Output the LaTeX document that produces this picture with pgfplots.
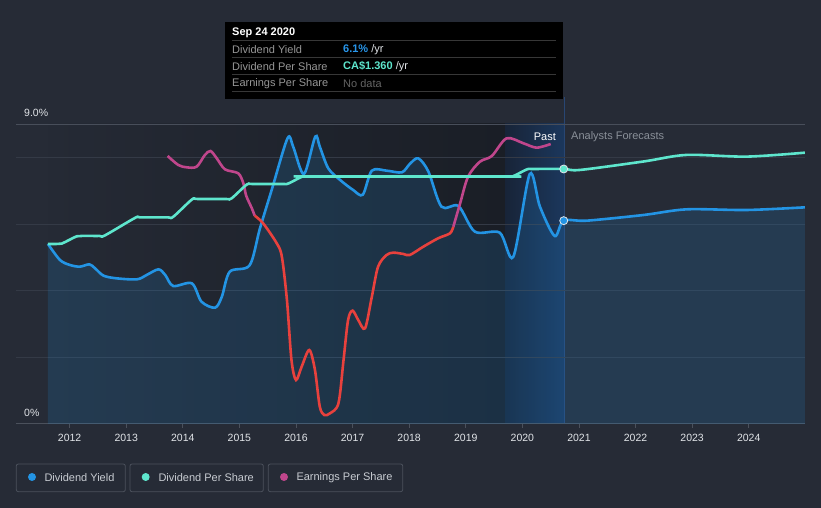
\documentclass[border=0pt]{standalone}
\usepackage{pgfplots}
\pgfplotsset{compat=1.18}
\usepackage{fontspec}
\setmainfont{Liberation Sans}
\definecolor{bg}{RGB}{38,43,54}
\definecolor{pastL}{RGB}{37,42,53}
\definecolor{pastR}{RGB}{26,30,38}
\definecolor{bandL}{RGB}{24,36,56}
\definecolor{bandR}{RGB}{27,55,92}
\definecolor{vline}{RGB}{40,70,115}
\definecolor{gridcol}{RGB}{52,58,70}
\definecolor{topline}{RGB}{72,78,90}
\definecolor{axiscol}{RGB}{75,81,92}
\definecolor{ticklab}{RGB}{225,228,232}
\definecolor{yieldcol}{RGB}{35,148,228}
\definecolor{dpscol}{RGB}{94,230,205}
\definecolor{epsmag}{RGB}{192,70,140}
\definecolor{epsred}{RGB}{232,65,61}
\definecolor{legtxt}{RGB}{200,204,210}
\definecolor{legbox}{RGB}{75,81,92}
\definecolor{tipgrey}{RGB}{150,150,150}
\definecolor{tipline}{RGB}{55,55,55}
\definecolor{tipblue}{RGB}{40,150,235}
\definecolor{nodata}{RGB}{100,100,100}
\definecolor{fcgrey}{RGB}{138,144,153}

\begin{document}
\begin{tikzpicture}[x=1pt,y=1pt]
% background
\fill[bg] (0,0) rectangle (821,508);
% past region shading
\shade[left color=pastL, right color=pastR] (48,84) rectangle (505,384);
\shade[left color=bandL, right color=bandR] (505,84) rectangle (564,384);
\draw[vline, line width=1pt] (564,84) -- (564,411);
\draw[topline, line width=0.9pt] (16,384) -- (805,384);

% main axis: dividend yield (%) ; EPS drawn on same scale (relative)
\begin{axis}[
  at={(16pt,84pt)}, anchor=south west, scale only axis,
  width=789pt, height=300pt,
  xmin=2011.053, xmax=2024.993, ymin=0, ymax=9,
  axis x line*=bottom, axis y line*=left,
  x axis line style={draw=axiscol, line width=1pt, -},
  y axis line style={draw=none},
  xtick={2012,...,2024},
  xtick align=outside, major tick length=4pt,
  xtick style={draw=axiscol, line width=0.8pt},
  xticklabel style={font=\fontsize{10.5}{12}\selectfont, text=ticklab, yshift=-2.5pt,
    /pgf/number format/1000 sep={}, /pgf/number format/assume math mode=true},
  ytick={2,4,6,8}, yticklabels={}, ytick style={draw=none},
  ymajorgrids, grid style={gridcol, line width=0.8pt},
  tension=0.5,
]
% fill under dividend yield
\addplot[draw=none, fill=yieldcol, fill opacity=0.16, smooth] coordinates {
(2011.618,5.40) (2011.83,4.92) (2012.007,4.77) (2012.18,4.72) (2012.35,4.79) (2012.45,4.67)
(2012.60,4.45) (2012.83,4.37) (2013.19,4.34) (2013.36,4.47) (2013.57,4.64) (2013.69,4.47)
(2013.83,4.14) (2014.16,4.22) (2014.33,3.67) (2014.57,3.49) (2014.69,3.82) (2014.83,4.57)
(2015.18,4.76) (2015.36,5.85) (2015.57,7.02) (2015.85,8.57) (2015.95,8.32) (2016.14,7.50)
(2016.34,8.62) (2016.42,8.32) (2016.57,7.67) (2016.78,7.32) (2017.01,7.02) (2017.18,6.88)
(2017.34,7.60) (2017.60,7.60) (2017.87,7.55) (2018.01,7.80) (2018.16,7.97) (2018.34,7.57)
(2018.57,6.52) (2018.87,6.54) (2019.16,5.77) (2019.60,5.74) (2019.84,5.02) (2020.13,7.50)
(2020.31,6.52) (2020.57,5.64) (2020.73,6.10) (2021.14,6.10) (2022.14,6.27) (2022.90,6.44)
(2023.96,6.42) (2024.99,6.50)
} \closedcycle;
% dividend yield line
\addplot[yieldcol, line width=2.6pt, smooth] coordinates {
(2011.618,5.40) (2011.83,4.92) (2012.007,4.77) (2012.18,4.72) (2012.35,4.79) (2012.45,4.67)
(2012.60,4.45) (2012.83,4.37) (2013.19,4.34) (2013.36,4.47) (2013.57,4.64) (2013.69,4.47)
(2013.83,4.14) (2014.16,4.22) (2014.33,3.67) (2014.57,3.49) (2014.69,3.82) (2014.83,4.57)
(2015.18,4.76) (2015.36,5.85) (2015.57,7.02) (2015.85,8.57) (2015.95,8.32) (2016.14,7.50)
(2016.34,8.62) (2016.42,8.32) (2016.57,7.67) (2016.78,7.32) (2017.01,7.02) (2017.18,6.88)
(2017.34,7.60) (2017.60,7.60) (2017.87,7.55) (2018.01,7.80) (2018.16,7.97) (2018.34,7.57)
(2018.57,6.52) (2018.87,6.54) (2019.16,5.77) (2019.60,5.74) (2019.84,5.02) (2020.13,7.50)
(2020.31,6.52) (2020.57,5.64) (2020.73,6.10) (2021.14,6.10) (2022.14,6.27) (2022.90,6.44)
(2023.96,6.42) (2024.99,6.50)
};
% earnings per share (relative scale)
\addplot[epsmag, line width=2.6pt, smooth] coordinates {
(2013.733,8.04) (2013.92,7.77) (2014.07,7.70) (2014.245,7.72) (2014.39,8.07) (2014.49,8.19)
(2014.60,7.97) (2014.745,7.64) (2014.98,7.52) (2015.07,7.22) (2015.12,6.85) (2015.22,6.47) (2015.27,6.25)
};
\addplot[epsred, line width=2.6pt, smooth] coordinates {
(2015.27,6.25) (2015.42,6.02) (2015.66,5.42) (2015.75,5.02) (2015.84,3.72) (2015.92,1.92)
(2016.00,1.32) (2016.10,1.72) (2016.235,2.22) (2016.335,1.62) (2016.42,0.52) (2016.50,0.27)
(2016.60,0.32) (2016.75,0.62) (2016.84,1.92) (2016.92,3.12) (2017.00,3.40) (2017.10,3.12)
(2017.22,2.87) (2017.34,3.82) (2017.45,4.72) (2017.60,5.07) (2017.72,5.14) (2017.90,5.10)
(2018.01,5.07) (2018.25,5.32) (2018.51,5.57) (2018.72,5.72) (2018.78,5.92)
};
\addplot[epsmag, line width=2.6pt, smooth] coordinates {
(2018.78,5.92) (2018.90,6.62) (2019.04,7.42) (2019.25,7.87) (2019.46,8.04) (2019.72,8.57)
(2020.02,8.42) (2020.25,8.29) (2020.50,8.40)
};
\addplot[only marks, mark=*, mark size=4pt, mark options={fill=yieldcol, draw=ticklab, line width=0.8pt}] coordinates {(2020.73,6.10)};
\end{axis}

% second axis: dividend per share (CA$)
\begin{axis}[
  at={(16pt,84pt)}, anchor=south west, scale only axis,
  width=789pt, height=300pt,
  xmin=2011.053, xmax=2024.993, ymin=0, ymax=1.6,
  hide axis, tension=0.5,
]
\addplot[dpscol, line width=2.6pt, smooth] coordinates {
(2011.618,0.960) (2011.76,0.960) (2011.86,0.962) (2012.125,1.001) (2012.22,1.003)
(2012.53,1.003) (2012.625,1.006) (2013.155,1.099) (2013.25,1.102)
(2013.73,1.102) (2013.83,1.105) (2014.16,1.197) (2014.26,1.200)
(2014.76,1.200) (2014.86,1.203) (2015.13,1.277) (2015.23,1.280)
(2015.76,1.280) (2015.86,1.282) (2016.10,1.318) (2016.20,1.320)
(2019.74,1.320) (2019.84,1.322) (2020.08,1.358) (2020.18,1.360)
(2020.73,1.360) (2021.02,1.355)
(2022.14,1.400) (2022.90,1.435) (2023.96,1.426) (2024.99,1.447)
};
\addplot[only marks, mark=*, mark size=4pt, mark options={fill=dpscol, draw=ticklab, line width=0.8pt}] coordinates {(2020.73,1.36)};
\end{axis}

% y labels
\node[anchor=west, inner sep=0, text=ticklab, font=\fontsize{10.5}{12}\selectfont] at (24,395.5) {9.0\%};
\node[anchor=west, inner sep=0, text=ticklab, font=\fontsize{10.5}{12}\selectfont] at (24,95.5) {0\%};

% past / forecast labels
\node[anchor=east, inner sep=0, text=white, font=\fontsize{11}{13}\selectfont] at (556,371.5) {Past};
\node[anchor=west, inner sep=0, text=fcgrey, font=\fontsize{11}{13}\selectfont] at (571,371.5) {Analysts Forecasts};

% tooltip
\fill[black] (225,409) rectangle (563,486);
\foreach \yy in {468,451,434,417} { \draw[tipline, line width=0.8pt] (232,\yy) -- (556,\yy); }
\node[anchor=west, inner sep=0, text=white, font=\bfseries\fontsize{11}{13}\selectfont] at (232,475) {Sep 24 2020};
\node[anchor=west, inner sep=0, text=tipgrey, font=\fontsize{11}{13}\selectfont] at (232,458.5) {Dividend Yield};
\node[anchor=west, inner sep=0, text=tipgrey, font=\fontsize{11}{13}\selectfont] at (232,441.8) {Dividend Per Share};
\node[anchor=west, inner sep=0, text=tipgrey, font=\fontsize{11}{13}\selectfont] at (232,424.5) {Earnings Per Share};
\node[anchor=west, inner sep=0, font=\fontsize{11}{13}\selectfont] at (343,458.5) {\textcolor{tipblue}{\bfseries 6.1\%}\ \textcolor{ticklab}{/yr}};
\node[anchor=west, inner sep=0, font=\fontsize{11}{13}\selectfont] at (343,441.8) {\textcolor{dpscol}{\bfseries CA\$1.360}\ \textcolor{ticklab}{/yr}};
\node[anchor=west, inner sep=0, text=nodata, font=\fontsize{11}{13}\selectfont] at (343,424.5) {No data};

% legend
\draw[legbox, line width=0.8pt, rounded corners=2pt] (16.3,16.3) rectangle (125.3,44);
\draw[legbox, line width=0.8pt, rounded corners=2pt] (130,16.3) rectangle (263.3,44);
\draw[legbox, line width=0.8pt, rounded corners=2pt] (268.3,16.3) rectangle (402.7,44);
\fill[yieldcol] (32,31) circle (4pt);
\fill[dpscol] (145.7,31) circle (4pt);
\fill[epsmag] (284,31) circle (4pt);
\node[anchor=west, inner sep=0, text=legtxt, font=\fontsize{11}{13}\selectfont] at (44.3,30.5) {Dividend Yield};
\node[anchor=west, inner sep=0, text=legtxt, font=\fontsize{11}{13}\selectfont] at (158.3,30.5) {Dividend Per Share};
\node[anchor=west, inner sep=0, text=legtxt, font=\fontsize{11}{13}\selectfont] at (296.3,30.5) {Earnings Per Share};
\end{tikzpicture}
\end{document}
